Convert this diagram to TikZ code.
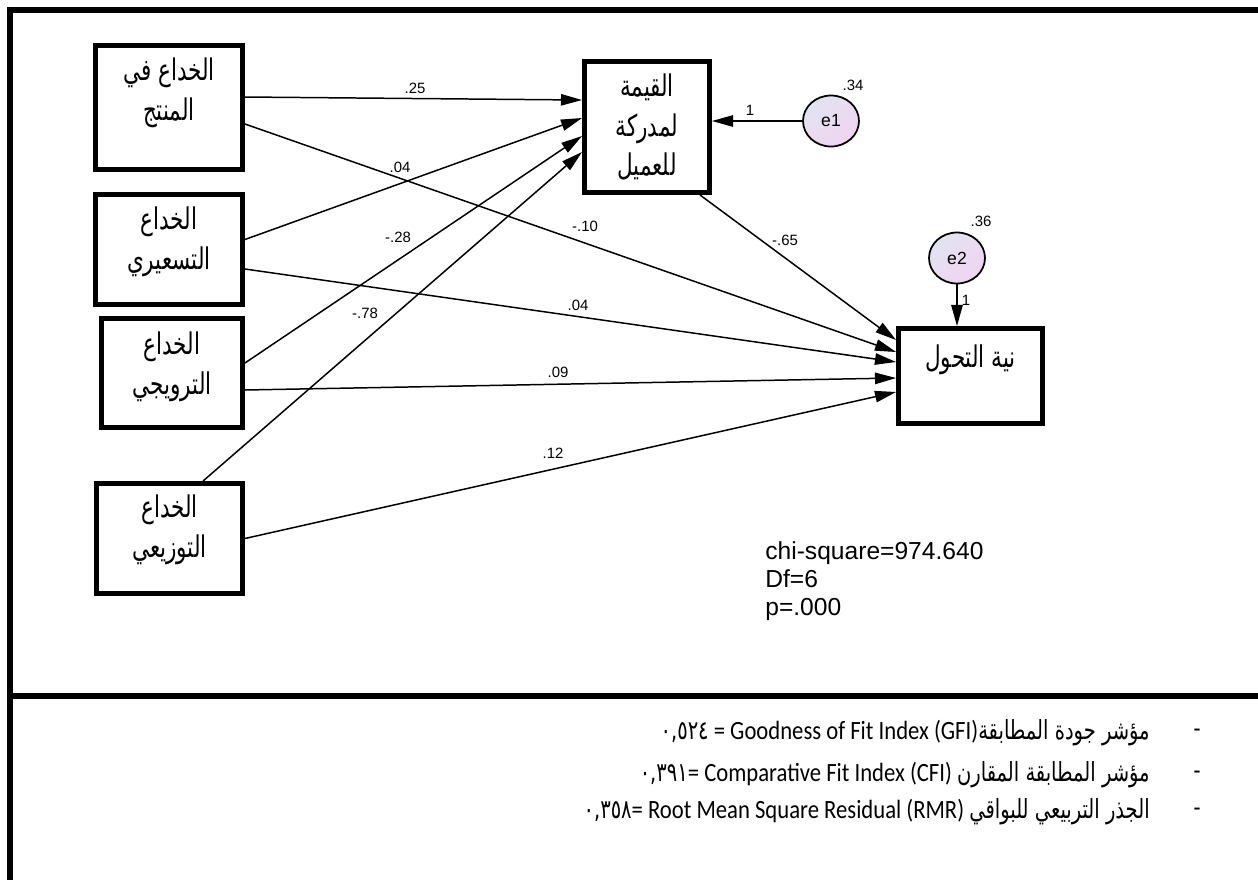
\documentclass[tikz,border=0pt]{standalone}
\usepackage{fontspec}
\setmainfont{Liberation Sans}
\setsansfont{Liberation Sans}
\newfontfamily\arabicfont[Script=Arabic,FakeStretch=0.72]{DejaVu Sans}
\newfontfamily\arabicnarrow[Script=Arabic,FakeStretch=0.74]{DejaVu Sans}
\newfontfamily\narrowfont[FakeStretch=0.86]{Carlito}
\TeXXeTstate=1
\usetikzlibrary{arrows.meta,shapes.geometric}

\definecolor{errtop}{RGB}{226,228,240}
\definecolor{errbot}{RGB}{240,212,242}

\begin{document}
\begin{tikzpicture}[
      x=0.02cm, y=-0.02cm,
      frame/.style={line width=3.4pt},
      varbox/.style={draw, line width=2.8pt, inner sep=0pt},
      boxtext/.style={font=\arabicfont\fontsize{17}{22.7}\selectfont, align=center},
      errvar/.style={ellipse, draw, line width=1pt, minimum width=1.12cm,
        minimum height=1.02cm, top color=errtop, bottom color=errbot,
        shading angle=45, font=\sffamily\fontsize{10}{12}\selectfont},
      regpath/.style={-{Triangle[length=12pt,width=6.5pt]}, line width=0.85pt},
      coef/.style={font=\sffamily\fontsize{8.5}{10}\selectfont, inner sep=0pt},
      fitline/.style={font=\narrowfont\fontsize{15}{18}\selectfont, anchor=east, inner sep=0pt}
    ]
    \useasboundingbox (0,0) rectangle (1258,880);

    % frame
    \draw[frame] (1258,10) -- (10,10) -- (10,880);
    \draw[frame] (10,696) -- (1258,696);

    % exogenous boxes
    \node[varbox, minimum width=2.94cm, minimum height=2.48cm,
      label={[boxtext, yshift=0.3cm]center:\beginR الخداع في\endR\\\beginR المنتج\endR}]
      (b1) at (169,107.5) {};
    \node[varbox, minimum width=2.94cm, minimum height=2.2cm,
      label={[boxtext, yshift=0.16cm]center:\beginR الخداع\endR\\\beginR التسعيري\endR}]
      (b2) at (169,249.5) {};
    \node[varbox, minimum width=2.82cm, minimum height=2.18cm,
      label={[boxtext, yshift=0.12cm]center:\beginR الخداع\endR\\\beginR الترويجي\endR}]
      (b3) at (172,373) {};
    \node[varbox, minimum width=2.92cm, minimum height=2.2cm,
      label={[boxtext, yshift=0.18cm]center:\beginR الخداع\endR\\\beginR التوزيعي\endR}]
      (b4) at (169.5,538.5) {};

    % mediator and outcome
    \node[varbox, minimum width=2.5cm, minimum height=2.62cm,
      label={[boxtext]center:\beginR القيمة\endR\\\beginR لمدركة\endR\\\beginR للعميل\endR}]
      (val) at (647,127) {};
    \node[varbox, minimum width=2.88cm, minimum height=1.9cm,
      label={[boxtext, yshift=0.32cm]center:\beginR نية التحول\endR}]
      (nie) at (970.5,376) {};

    % errors
    \node[errvar] (e1) at (831,121) {e1};
    \node[errvar] (e2) at (957,258) {e2};
    \draw[regpath] (e1) -- (val.east |- e1);
    \draw[regpath] (e2) -- (e2 |- nie.north);

    % paths to mediator
    \draw[regpath] ([yshift=0.21cm]b1.east) -- ([yshift=0.54cm]val.west);
    \draw[regpath] ([yshift=0.2cm]b2.east) -- ([yshift=0.18cm]val.west);
    \draw[regpath] ([yshift=0.2cm]b3.east) -- ([yshift=-0.18cm]val.west);
    \draw[regpath] ([xshift=0.67cm]b4.north) -- ([yshift=-0.5cm]val.west);

    % paths to outcome
    \draw[regpath] ([xshift=-0.24cm]val.south east) -- ([yshift=0.72cm]nie.west);
    \draw[regpath] ([yshift=-0.33cm]b1.east) -- ([yshift=0.48cm]nie.west);
    \draw[regpath] ([yshift=-0.39cm]b2.east) -- ([yshift=0.28cm]nie.west);
    \draw[regpath] ([yshift=-0.34cm]b3.east) -- ([yshift=-0.04cm]nie.west);
    \draw[regpath] (b4.east) -- ([yshift=-0.32cm]nie.west);

    % estimates
    \node[coef] (c1) at (415,88) {.25};
    \node[coef] (c2) at (400,167) {.04};
    \node[coef] (c3) at (398,237) {-.28};
    \node[coef] (c4) at (365,313) {-.78};
    \node[coef] (c5) at (585,226) {-.10};
    \node[coef] (c6) at (578,305) {.04};
    \node[coef] (c7) at (558,372) {.09};
    \node[coef] (c8) at (553,453) {.12};
    \node[coef] (c9) at (785,240) {-.65};
    \node[coef] (w1) at (750,110) {1};
    \node[coef] (v1) at (853,85) {.34};
    \node[coef] (w2) at (966,300) {1};
    \node[coef] (v2) at (981,221) {.36};

    % fit
    \node[font=\sffamily\fontsize{14}{16}\selectfont, align=left, anchor=north west,
      inner sep=0pt] (chi) at (765,541)
      {chi-square=974.640\\Df=6\\p=.000};

    % indices
    \node[fitline] (gfi) at (1150,733)
      {{\arabicnarrow ٠,٥٢٤} = Goodness of Fit Index (GFI){\arabicnarrow\beginR مؤشر جودة المطابقة\endR}};
    \node[fitline] (cfi) at (1150,775)
      {{\arabicnarrow ٠,٣٩١}= Comparative Fit Index (CFI) {\arabicnarrow\beginR مؤشر المطابقة المقارن\endR}};
    \node[fitline] (rmr) at (1150,812)
      {{\arabicnarrow ٠,٣٥٨}= Root Mean Square Residual (RMR) {\arabicnarrow\beginR الجذر التربيعي للبواقي\endR}};
    \node[fitline, anchor=center] (d1) at (1197,733) {-};
    \node[fitline, anchor=center] (d2) at (1197,775) {-};
    \node[fitline, anchor=center] (d3) at (1197,812) {-};
  \end{tikzpicture}
\end{document}
